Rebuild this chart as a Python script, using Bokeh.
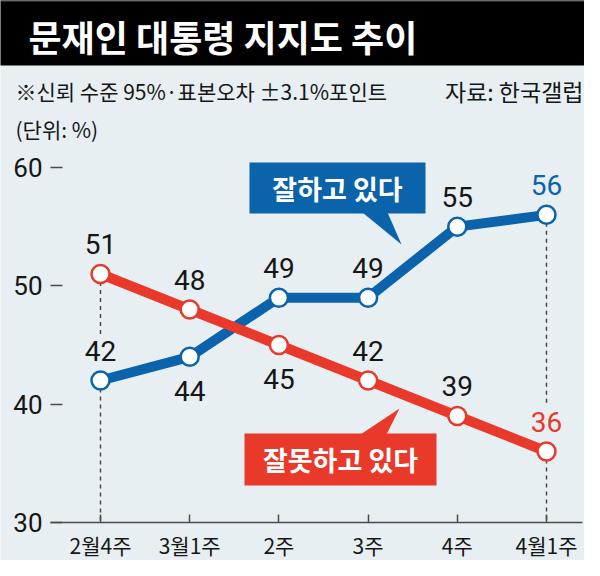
from bokeh.plotting import figure
from bokeh.models import FixedTicker, Range1d
from bokeh.core.properties import value
from bokeh.embed import file_html
from bokeh.resources import INLINE

# ---------------- data ----------------
categories = ["2월4주", "3월1주", "2주", "3주", "4주", "4월1주"]
approve = [42, 44, 49, 49, 55, 56]          # 잘하고 있다
disapprove = [51, 48, 45, 42, 39, 36]       # 잘못하고 있다
approve_label_side = ["above", "below", "above", "above", "above", "above"]
disapprove_label_side = ["above", "above", "below", "above", "above", "above"]
y_ticks = [30, 40, 50, 60]

title_txt = "문재인 대통령 지지도 추이"
note_txt = "※신뢰 수준 95%·표본오차 ±3.1%포인트"
source_txt = "자료: 한국갤럽"
unit_txt = "(단위: %)"
approve_name = "잘하고 있다"
disapprove_name = "잘못하고 있다"

# ---------------- style ----------------
BG = "#e7eff3"
BLUE = "#0a63ab"
RED = "#e8392b"
INK = "#161616"
GRAY = "#4a4a4a"
KR = "Noto Sans CJK KR"
NUM = "Roboto"
OFF_ABOVE, OFF_BELOW = -30, 34   # label offsets from the marker, px

W, H = 584, 560
X0, XSTEP = 100, 89.2      # pixel of first category, pixel spacing
Y30, YUNIT = 522, 11.8333  # pixel of value 30, pixels per unit


def dx(px):
    return (px - X0) / XSTEP


def dy(py):
    return 30 + (Y30 - py) / YUNIT


p = figure(width=W, height=H, output_backend="svg", toolbar_location=None,
           x_range=Range1d(dx(0), dx(W)), y_range=Range1d(dy(H), dy(0)),
           min_border=0, background_fill_color=BG, border_fill_color=BG,
           outline_line_color=None)
p.grid.visible = False

# axes
xa = p.xaxis[0]
xa.fixed_location = y_ticks[0]
xa.ticker = FixedTicker(ticks=list(range(len(categories))))
xa.major_label_overrides = {i: c for i, c in enumerate(categories)}
xa.bounds = (dx(50), dx(582))
xa.axis_line_color = GRAY
xa.axis_line_width = 1.5
xa.major_tick_in = 8
xa.major_tick_out = 0
xa.major_tick_line_color = GRAY
xa.major_tick_line_width = 1.5
xa.minor_tick_line_color = None
xa.major_label_text_font = KR
xa.major_label_text_font_size = "21px"
xa.major_label_text_color = INK
xa.major_label_standoff = 7

ya = p.yaxis[0]
ya.fixed_location = dx(50)
ya.ticker = FixedTicker(ticks=y_ticks)
ya.axis_line_color = None
ya.major_tick_in = 12
ya.major_tick_out = 0
ya.major_tick_line_color = GRAY
ya.major_tick_line_width = 1.5
ya.minor_tick_line_color = None
ya.major_label_text_font = NUM
ya.major_label_text_font_size = "26px"
ya.major_label_text_color = INK
ya.major_label_standoff = 8

# header
p.quad(left=[dx(-4)], right=[dx(W + 4)], top=[dy(-4)], bottom=[dy(65)],
       fill_color="black", line_color=None)
p.quad(left=[dx(-4)], right=[dx(W + 4)], top=[dy(-4)], bottom=[dy(1)],
       fill_color="#5a5a5a", line_color=None)
p.text(x=[dx(28)], y=[dy(35)], text=[title_txt], text_font=value(KR),
       text_font_style="bold", text_font_size="36px", text_color="white",
       text_align="left", text_baseline="middle")
p.text(x=[dx(15)], y=[dy(90)], text=[note_txt], text_font=value(KR),
       text_font_size="21px", text_color=INK, text_align="left", text_baseline="middle")
p.text(x=[dx(583)], y=[dy(90)], text=[source_txt], text_font=value(KR),
       text_font_size="23px", text_color=INK, text_align="right", text_baseline="middle")
p.text(x=[dx(15)], y=[dy(128)], text=[unit_txt], text_font=value(KR),
       text_font_size="21px", text_color=INK, text_align="left", text_baseline="middle")

xs = list(range(len(categories)))

# dashed guides at first and last category, broken around the lower value's label
gap = (abs(OFF_ABOVE) + 15) / YUNIT
g_x, g_y0, g_y1 = [], [], []
for i in (xs[0], xs[-1]):
    hi = max(approve[i], disapprove[i])
    lo = min(approve[i], disapprove[i])
    g_x += [i, i]
    g_y0 += [hi, lo]
    g_y1 += [lo + gap, y_ticks[0]]
p.segment(x0=g_x, y0=g_y0, x1=g_x, y1=g_y1,
          line_color=GRAY, line_width=1.5, line_dash="4 4")

# callouts
p.quad(left=[dx(249)], right=[dx(425)], top=[dy(162)], bottom=[dy(213)],
       fill_color=BLUE, line_color=None)
p.patch(x=[dx(362), dx(387), dx(401)], y=[dy(212), dy(212), dy(244)],
        fill_color=BLUE, line_color=None)
p.text(x=[dx(337)], y=[dy(188)], text=[approve_name], text_font=value(KR),
       text_font_style="bold", text_font_size="27px", text_color="white",
       text_align="center", text_baseline="middle")

p.quad(left=[dx(244)], right=[dx(436)], top=[dy(433)], bottom=[dy(485)],
       fill_color=RED, line_color=None)
p.patch(x=[dx(360), dx(386), dx(399)], y=[dy(434), dy(434), dy(408)],
        fill_color=RED, line_color=None)
p.text(x=[dx(340)], y=[dy(459)], text=[disapprove_name], text_font=value(KR),
       text_font_style="bold", text_font_size="27px", text_color="white",
       text_align="center", text_baseline="middle")

# series
for vals, sides, col in ((approve, approve_label_side, BLUE),
                         (disapprove, disapprove_label_side, RED)):
    p.line(xs, vals, line_width=10, line_color=col)
    p.scatter(xs, vals, size=18, fill_color="white", line_color=col, line_width=2.5)
    offs = [OFF_ABOVE if s == "above" else OFF_BELOW for s in sides]
    cols = [INK] * (len(vals) - 1) + [col]
    p.text(x=xs, y=vals, text=[str(v) for v in vals], y_offset=offs,
           text_color=cols, text_font=value(NUM), text_font_size="28px",
           text_align="center", text_baseline="middle")

open("out.html", "w").write(file_html(p, INLINE))
